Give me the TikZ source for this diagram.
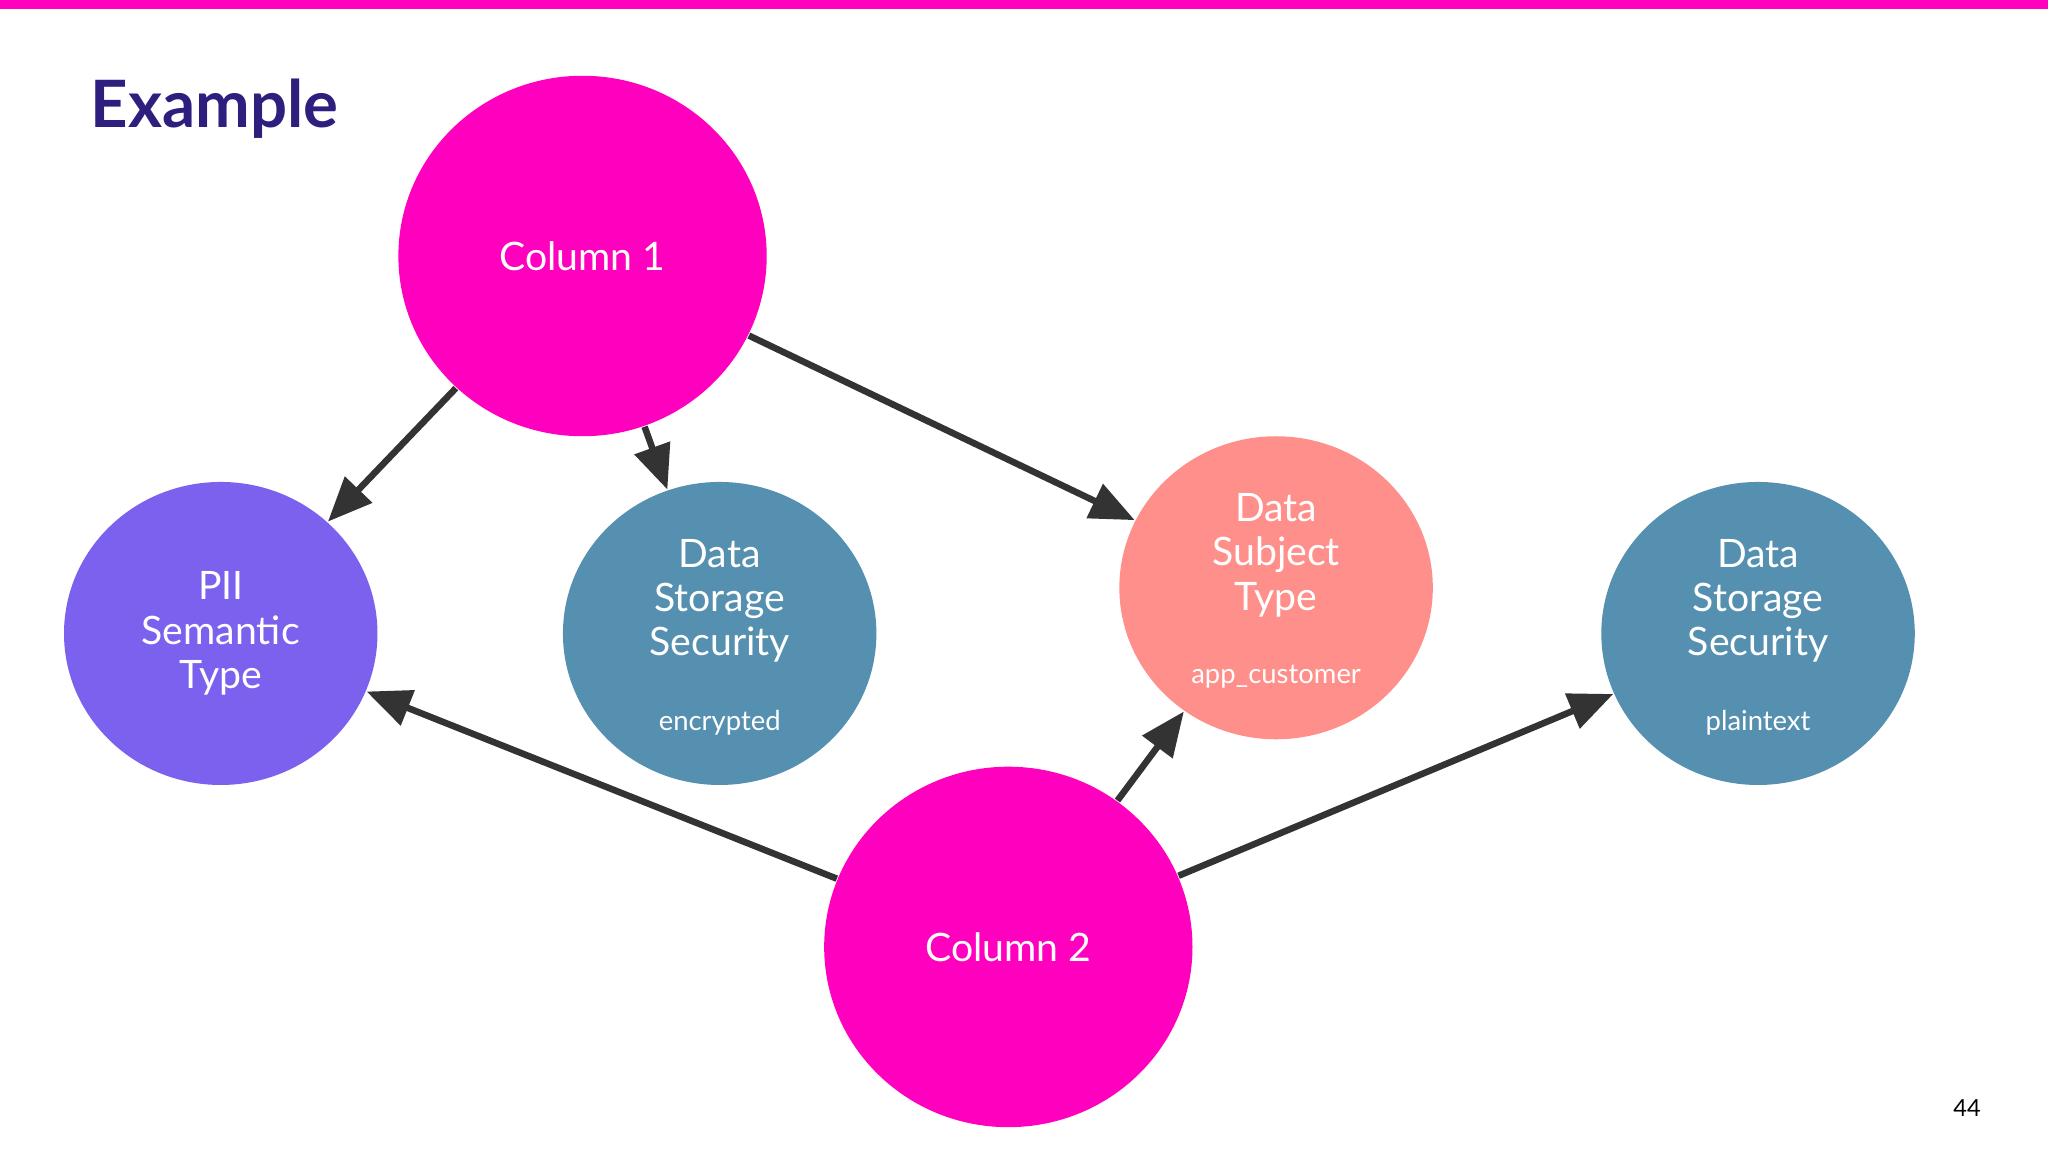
\documentclass[tikz,border=0pt]{standalone}
\usepackage{fontspec}
\setmainfont{Lato}
\usetikzlibrary{shapes.geometric,arrows.meta}
\definecolor{hotpink}{RGB}{255,0,191}
\definecolor{violet}{RGB}{123,97,238}
\definecolor{steel}{RGB}{85,144,176}
\definecolor{salmon}{RGB}{255,143,138}
\definecolor{ink}{RGB}{51,51,51}
\definecolor{navy}{RGB}{46,31,127}
\tikzset{every picture/.style={line width=0.75pt}}

\begin{document}
\begin{tikzpicture}[x=0.5pt,y=0.5pt,yscale=-1,xscale=1,
  blob/.style={ellipse,draw=none,text=white,align=center,font=\fontsize{15}{17}\selectfont,inner sep=0pt},
  big/.style={blob,fill=hotpink,minimum width=141pt,minimum height=138pt},
  small/.style={blob,minimum width=120pt,minimum height=116pt},
  tag/.style={font=\fontsize{10.5}{12}\selectfont,text=white},
  link/.style={draw=ink,line width=2.5pt,-{Triangle[length=17pt,width=14pt]}}]
\useasboundingbox (0,0) rectangle (1568,882);
\fill[white] (0,0) rectangle (1568,882);
%top bar
\fill[hotpink] (0,0) rectangle (1568,7);
% Text Node
\node (title) [anchor=west,text=navy,font=\fontsize{25}{28}\selectfont\bfseries] at (62,83) {Example};
% Text Node
\node (page) [font=\fontsize{9}{10}\selectfont] at (1506,848) {44};

%Circles
\node (col1) [big] at (446,196) {Column 1};
\node (col2) [big] at (772,725) {Column 2};
\node (pii) [small,fill=violet] at (169,485) {PII\\Semantic\\Type};
\node (dss1) [small,fill=steel] at (551,485) {};
\node (dst) [small,fill=salmon] at (977,450) {};
\node (dss2) [small,fill=steel] at (1346,485) {};
\node (dss1t) [blob] at (551,460) {Data\\Storage\\Security};
\node (dss1v) [tag] at (551,553) {encrypted};
\node (dstt) [blob] at (977,425) {Data\\Subject\\Type};
\node (dstv) [tag] at (977,518) {app\_customer};
\node (dss2t) [blob] at (1346,460) {Data\\Storage\\Security};
\node (dss2v) [tag] at (1346,553) {plaintext};

%Arrows
\draw [link] (col1) -- (pii);
\draw [link] (col1) -- (dss1);
\draw [link] (col1) -- (dst);
\draw [link] (col2) -- (pii);
\draw [link] (col2) -- (dst);
\draw [link] (col2) -- (dss2);
\end{tikzpicture}
\end{document}
